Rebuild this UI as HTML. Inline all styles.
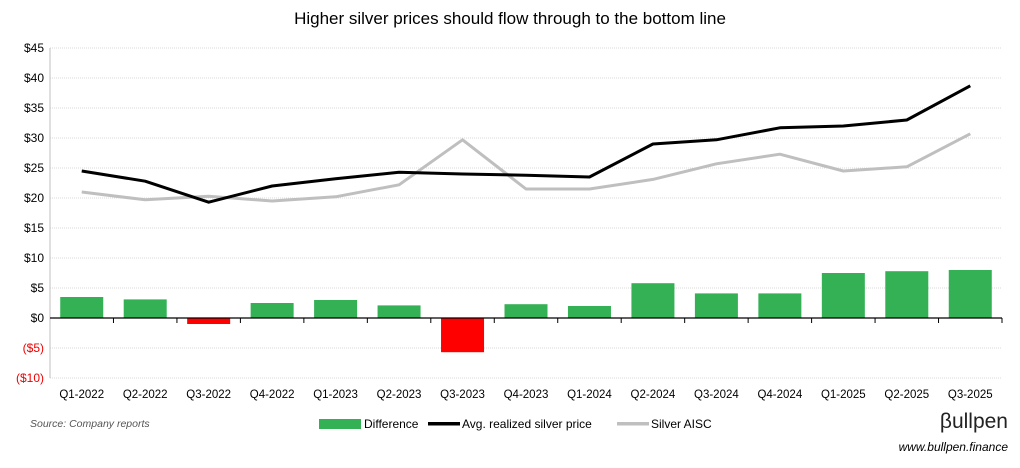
<!DOCTYPE html>
<html><head><meta charset="utf-8"><style>
body{margin:0;background:#fff;width:1020px;height:463px;overflow:hidden;font-family:"Liberation Sans",sans-serif}
svg text{font-family:"Liberation Sans",sans-serif}
</style></head><body>
<svg id="c" width="1020" height="463" xmlns="http://www.w3.org/2000/svg">
<text x="510" y="24" text-anchor="middle" font-size="17" fill="#000">Higher silver prices should flow through to the bottom line</text>
<g id="grid"></g><g id="bars"></g><g id="lines"></g><g id="axes"></g>
<text x="30" y="427" font-size="10.5" font-style="italic" fill="#555">Source: Company reports</text>
<g>
<rect x="319" y="419" width="42" height="10" fill="#34b155"/>
<text x="364" y="428" font-size="12">Difference</text>
<rect x="428" y="422" width="32" height="3.5" fill="#000"/>
<text x="462" y="428" font-size="12">Avg. realized silver price</text>
<rect x="617" y="422" width="32" height="3.5" fill="#bfbfbf"/>
<text x="651" y="428" font-size="12">Silver AISC</text>
</g>
<text x="1008" y="428" text-anchor="end" font-size="21" fill="#222">βullpen</text>
<text x="1008" y="451" text-anchor="end" font-size="12" font-style="italic" fill="#000">www.bullpen.finance</text>
</svg>
<script>
const categories=["Q1-2022","Q2-2022","Q3-2022","Q4-2022","Q1-2023","Q2-2023","Q3-2023","Q4-2023","Q1-2024","Q2-2024","Q3-2024","Q4-2024","Q1-2025","Q2-2025","Q3-2025"];
const avgPrice=[24.5,22.8,19.3,22.0,23.2,24.3,24.0,23.8,23.5,29.0,29.7,31.7,32.0,33.0,38.7];
const aisc=[21.0,19.7,20.3,19.5,20.2,22.2,29.7,21.5,21.5,23.1,25.7,27.3,24.5,25.2,30.7];
const difference=[3.5,3.1,-1.0,2.5,3.0,2.1,-5.7,2.3,2.0,5.8,4.1,4.1,7.5,7.8,8.0];
const yTicks=[45,40,35,30,25,20,15,10,5,0,-5,-10];
const yTickLabels=["$45","$40","$35","$30","$25","$20","$15","$10","$5","$0","($5)","($10)"];
const NS="http://www.w3.org/2000/svg";
const X0=50,X1=1002,bw=(X1-X0)/categories.length;
const y=v=>318-v*6;
const x=i=>X0+bw*(i+0.5);
function mk(t,a,p){const e=document.createElementNS(NS,t);for(const k in a)e.setAttribute(k,a[k]);document.getElementById(p).appendChild(e);return e;}
yTicks.forEach((v,i)=>{
 if(v!==0){const g=mk('line',{x1:X0,x2:X1,y1:y(v),y2:y(v),stroke:'#d9d9d9','stroke-dasharray':'1,1'},'grid');
 
 }
 const t=mk('text',{x:44,y:y(v)+4,'text-anchor':'end','font-size':12,fill:v<0?'#e00':'#000'},'axes');
 t.textContent=yTickLabels[i];
 
 
});
mk('line',{x1:X0,x2:X0,y1:y(45),y2:y(-10),stroke:'#bfbfbf'},'axes');
const ax=mk('line',{x1:X0,x2:X1,y1:y(0),y2:y(0),stroke:'#000','stroke-width':1.3},'axes');


categories.forEach((c,i)=>{
 mk('line',{x1:X0+bw*(i+1),x2:X0+bw*(i+1),y1:y(0),y2:y(0)+5,stroke:'#000'},'axes');
 const t=mk('text',{x:x(i),y:y(-10)+20,'text-anchor':'middle','font-size':11.5},'axes');
 t.textContent=c;
 
 
 const d=difference[i];
 const r=mk('rect',{x:x(i)-21.5,width:43,y:Math.min(y(d),y(0)),height:Math.abs(y(d)-y(0)),fill:d<0?'#ff0000':'#34b155'},'bars');
 
 
});
function line(vals,col,name){
 const p=mk('polyline',{points:vals.map((v,i)=>x(i)+','+y(v)).join(' '),fill:'none',stroke:col,'stroke-width':3,'stroke-linejoin':'round'},'lines');
 
 
}
line(aisc,'#bfbfbf','aisc-line');
line(avgPrice,'#000','avg-price-line');
</script>
</body></html>
